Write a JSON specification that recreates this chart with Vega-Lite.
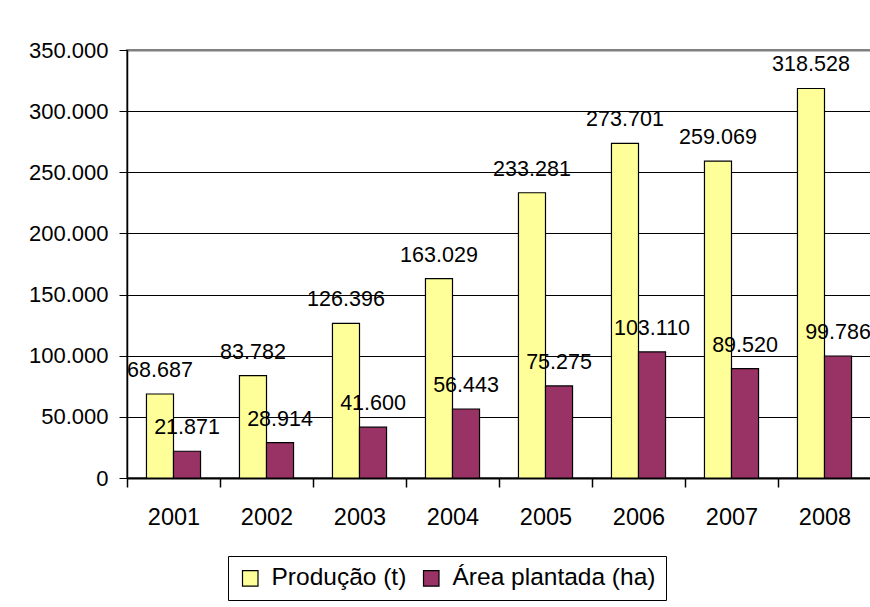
{
  "$schema": "https://vega.github.io/schema/vega-lite/v6.json",
  "width": 744,
  "height": 428,
  "padding": {"left": 28, "top": 39, "right": 0, "bottom": 0},
  "autosize": {"type": "pad"},
  "background": "white",
  "config": {
    "locale": {"number": {"decimal": ",", "thousands": ".", "grouping": [3], "currency": ["R$", ""]}},
    "font": "Liberation Sans",
    "view": {"stroke": "#808080", "strokeWidth": 2}
  },
  "data": {
    "values": [
      {"ano": "2001", "serie": "Produção (t)", "valor": 68687},
      {"ano": "2002", "serie": "Produção (t)", "valor": 83782},
      {"ano": "2003", "serie": "Produção (t)", "valor": 126396},
      {"ano": "2004", "serie": "Produção (t)", "valor": 163029},
      {"ano": "2005", "serie": "Produção (t)", "valor": 233281},
      {"ano": "2006", "serie": "Produção (t)", "valor": 273701},
      {"ano": "2007", "serie": "Produção (t)", "valor": 259069},
      {"ano": "2008", "serie": "Produção (t)", "valor": 318528},
      {"ano": "2001", "serie": "Área plantada (ha)", "valor": 21871},
      {"ano": "2002", "serie": "Área plantada (ha)", "valor": 28914},
      {"ano": "2003", "serie": "Área plantada (ha)", "valor": 41600},
      {"ano": "2004", "serie": "Área plantada (ha)", "valor": 56443},
      {"ano": "2005", "serie": "Área plantada (ha)", "valor": 75275},
      {"ano": "2006", "serie": "Área plantada (ha)", "valor": 103110},
      {"ano": "2007", "serie": "Área plantada (ha)", "valor": 89520},
      {"ano": "2008", "serie": "Área plantada (ha)", "valor": 99786}
    ]
  },
  "encoding": {
    "x": {
      "field": "ano", "type": "nominal",
      "scale": {"paddingInner": 0, "paddingOuter": 0},
      "axis": {
        "title": null, "labelAngle": 0, "labelFontSize": 23.5, "labelColor": "black",
        "labelPadding": 18, "tickBand": "extent", "tickSize": 9, "tickColor": "black",
        "domainColor": "black", "domainWidth": 2, "tickWidth": 1.5, "grid": false
      }
    },
    "y": {
      "field": "valor", "type": "quantitative",
      "scale": {"domain": [0, 350000], "nice": false},
      "axis": {
        "title": null, "values": [0, 50000, 100000, 150000, 200000, 250000, 300000, 350000],
        "format": ",d", "labelFontSize": 22, "labelColor": "black", "labelPadding": 11,
        "tickSize": 8, "tickColor": "black", "domainColor": "black", "domainWidth": 1.5,
        "grid": true,
        "gridColor": {"condition": {"test": "datum.value == 350000", "value": "#808080"}, "value": "black"},
        "gridWidth": {"condition": {"test": "datum.value == 350000", "value": 2}, "value": 1.2},
        "gridOpacity": 1
      }
    },
    "xOffset": {
      "field": "serie", "type": "nominal",
      "sort": ["Produção (t)", "Área plantada (ha)"],
      "scale": {"paddingInner": 0, "paddingOuter": 0.72}
    }
  },
  "layer": [
    {
      "mark": {"type": "bar", "stroke": "black", "strokeWidth": 1.2},
      "encoding": {
        "color": {
          "field": "serie", "type": "nominal",
          "scale": {"domain": ["Produção (t)", "Área plantada (ha)"], "range": ["#FFFF99", "#993366"]},
          "legend": {
            "title": null, "orient": "none", "legendX": 101, "legendY": 506,
            "direction": "horizontal", "strokeColor": "black",
            "padding": 10, "labelLimit": 500,
            "labelFontSize": 24.5, "labelColor": "black", "symbolType": "square",
            "symbolSize": 240, "symbolStrokeColor": "black", "symbolStrokeWidth": 1.2,
            "symbolOpacity": 1, "labelOffset": 9, "columnPadding": 12, "cornerRadius": 0
          }
        }
      }
    },
    {
      "mark": {"type": "text", "baseline": "alphabetic", "dy": -17, "fontSize": 21.5, "color": "black"},
      "encoding": {
        "text": {"field": "valor", "type": "quantitative", "format": ",d"}
      }
    }
  ]
}
